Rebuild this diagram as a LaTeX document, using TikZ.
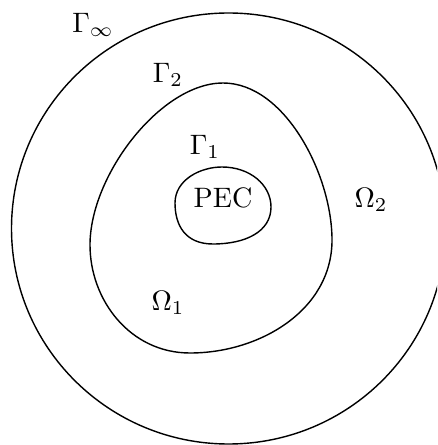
\documentclass[tikz,border=0pt]{standalone}
\usepackage{amsmath,amssymb}
\usepackage{tikz}
\usetikzlibrary{positioning}

\begin{document}
\begin{tikzpicture}[
  x=0.0125cm, y=-0.0125cm,
  boundary/.style={draw, line width=0.5pt},
  lbl/.style={inner sep=1pt},
]
  \useasboundingbox (0,0) rectangle (437,445);
  \clip (0,0) rectangle (437,445);

  % Outer boundary
  \coordinate (centre) at (228.5,228.5);
  \draw[boundary] (centre) ellipse [x radius=217, y radius=215.5];

  % Interface Gamma_2
  \coordinate (t2) at (223,83);
  \coordinate (r2) at (332,240);
  \coordinate (b2) at (190,353);
  \coordinate (l2) at (90,245);
  \draw[boundary] (t2) .. controls (285,83) and (332,175) .. (r2)
    .. controls (332,310) and (260,353) .. (b2)
    .. controls (130,353) and (90,300) .. (l2)
    .. controls (90,175) and (161,83) .. (t2) -- cycle;

  % PEC boundary Gamma_1
  \coordinate (t1) at (222,167);
  \coordinate (r1) at (271,207);
  \coordinate (b1) at (213,244);
  \coordinate (l1) at (175,203);
  \draw[boundary] (l1) .. controls (175,180) and (200,167) .. (t1)
    .. controls (250,167) and (271,185) .. (r1)
    .. controls (271,232) and (245,244) .. (b1)
    .. controls (185,244) and (175,225) .. (l1) -- cycle;

  % Labels
  \node[lbl] (pec) at (223,198) {PEC};
  \node[lbl] (g1) at (205,147) {$\Gamma_1$};
  \node[lbl] (g2) at (168,75) {$\Gamma_2$};
  \node[lbl] (ginf) at (93,25) {$\Gamma_\infty$};
  \node[lbl] (o1) at (168,303) {$\Omega_1$};
  \node[lbl] (o2) at (371,200) {$\Omega_2$};
\end{tikzpicture}
\end{document}
